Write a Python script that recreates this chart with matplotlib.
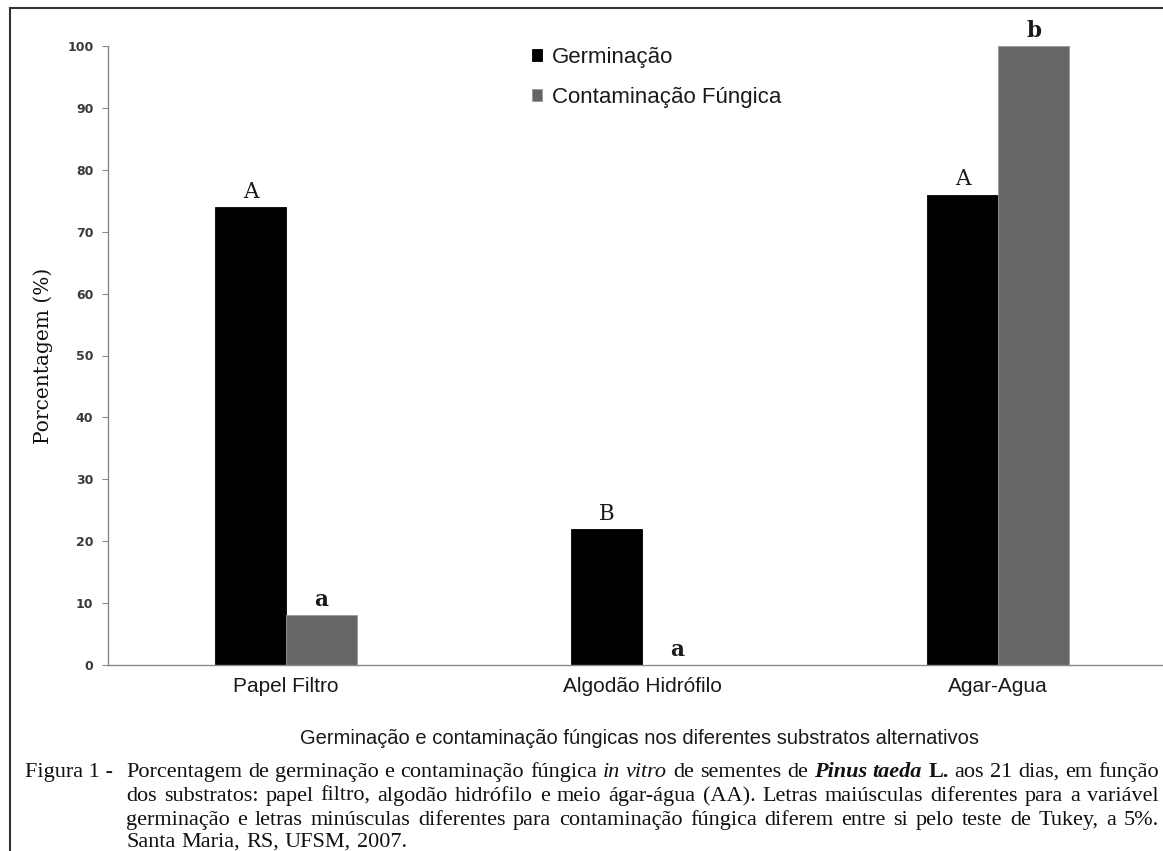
import numpy as np
import matplotlib
matplotlib.use('Agg')
from matplotlib import pyplot as plt
from matplotlib.lines import Line2D

# data
categories = ['Papel Filtro', 'Algodão Hidrófilo', 'Agar-Agua']
germinacao = [74, 22, 76]
contaminacao = [8, 0, 100]
letras_germ = ['A', 'B', 'A']
letras_cont = ['a', 'a', 'b']
series_names = ['Germinação', 'Contaminação Fúngica']
yticks = list(range(0, 101, 10))
xlabel = 'Germinação e contaminação fúngicas nos diferentes substratos alternativos'
ylabel = 'Porcentagem (%)'

W, H = 1163, 851
fig = plt.figure(figsize=(W / 100, H / 100), dpi=100, facecolor='white')

# axes placed in pixel terms (x range runs past the right edge, as in the scan)
left, right, bottom, top = 108, 1176, 665, 46
ax = fig.add_axes([left / W, 1 - bottom / H, (right - left) / W, (bottom - top) / H])
ax.set_facecolor('none')

x = np.arange(len(categories))
bw = 0.2
b1 = ax.bar(x - bw / 2, germinacao, bw, color='#000000', edgecolor='#000000', linewidth=0.6,
            label=series_names[0])
b2 = ax.bar(x + bw / 2, contaminacao, bw, color='#666666', edgecolor='#9a9a9a', linewidth=0.6,
            label=series_names[1])

ax.set_xlim(-0.5, 2.5)
ax.set_ylim(0, 100)
ax.set_yticks(yticks)
ax.set_yticklabels([str(t) for t in yticks], fontsize=9, fontweight='bold',
                   family='DejaVu Sans', color='#3a3a3a')
ax.tick_params(axis='y', direction='out', length=4.5, width=0.8, color='#888888', pad=6)
ax.set_xticks(x)
ax.set_xticklabels(categories, fontsize=15, family='Liberation Sans', color='#1a1a1a')
ax.tick_params(axis='x', length=0, pad=9)
for s in ['top', 'right']:
    ax.spines[s].set_visible(False)
ax.spines['left'].set_color('#8a8a8a')
ax.spines['bottom'].set_color('#8a8a8a')
ax.spines['left'].set_linewidth(1.0)
ax.spines['bottom'].set_linewidth(1.0)

# Tukey letters
for xi, v, t in zip(x - bw / 2, germinacao, letras_germ):
    ax.annotate(t, (xi, v), xytext=(0, 3), textcoords='offset points', ha='center',
                va='bottom', fontsize=15.5, family='DejaVu Serif', color='#1a1a1a')
for xi, v, t in zip(x + bw / 2, contaminacao, letras_cont):
    ax.annotate(t, (xi, v), xytext=(0, 3), textcoords='offset points', ha='center',
                va='bottom', fontsize=15.5, fontweight='bold', family='DejaVu Serif',
                color='#1a1a1a')

leg = ax.legend(handles=[b1, b2], loc='upper left', bbox_to_anchor=(532 / W, 1 - 47 / H),
                bbox_transform=fig.transFigure, frameon=False, borderpad=0, borderaxespad=0,
                handlelength=0.45, handleheight=0.45, handletextpad=0.45, labelspacing=0.85,
                prop={'family': 'Liberation Sans', 'size': 16})
for t in leg.get_texts():
    t.set_color('#1a1a1a')

fig.text(640 / W, 1 - 739 / H, xlabel, ha='center', va='center', fontsize=14.5,
         family='Liberation Sans', color='#1a1a1a')
fig.text(43 / W, 1 - 356 / H, ylabel, ha='center', va='center', rotation=90,
         fontsize=14.5, family='DejaVu Serif', color='#111111')

# frame of the scanned figure (left and top only are visible)
fig.add_artist(Line2D([9.5 / W, 9.5 / W], [0, 1 - 7.5 / H], transform=fig.transFigure,
                      color='#333333', lw=1.5))
fig.add_artist(Line2D([9.5 / W, 1], [1 - 7.5 / H, 1 - 7.5 / H], transform=fig.transFigure,
                      color='#333333', lw=1.5))

# caption, justified word by word
cap_font = dict(family='Liberation Serif', size=16, color='#111111')
cap_left, cap_right = 126, 1159
cap_lines = [
    [('Porcentagem', ''), ('de', ''), ('germinação', ''), ('e', ''), ('contaminação', ''),
     ('fúngica', ''), ('in', 'i'), ('vitro', 'i'), ('de', ''), ('sementes', ''), ('de', ''),
     ('Pinus', 'bi'), ('taeda', 'bi'), ('L.', 'b'), ('aos', ''), ('21', ''), ('dias,', ''),
     ('em', ''), ('função', '')],
    [(w, '') for w in 'dos substratos: papel filtro, algodão hidrófilo e meio ágar-água (AA). '
     'Letras maiúsculas diferentes para a variável'.split()],
    [(w, '') for w in 'germinação e letras minúsculas diferentes para contaminação fúngica '
     'diferem entre si pelo teste de Tukey, a 5%.'.split()],
    [(w, '') for w in 'Santa Maria, RS, UFSM, 2007.'.split()],
]
baselines = [777, 801, 825, 847]

fig.text(25 / W, 1 - baselines[0] / H, 'Figura 1 -', ha='left', va='baseline', **cap_font)

renderer = fig.canvas.get_renderer()
for li, (words, yb) in enumerate(zip(cap_lines, baselines)):
    texts = []
    for w, st in words:
        t = fig.text(0, 1 - yb / H, w, ha='left', va='baseline',
                     fontweight='bold' if 'b' in st else 'normal',
                     fontstyle='italic' if 'i' in st else 'normal', **cap_font)
        texts.append(t)
    widths = [t.get_window_extent(renderer).width for t in texts]
    if li < len(cap_lines) - 1:
        gap = (cap_right - cap_left - sum(widths)) / (len(texts) - 1)
    else:
        gap = 6
    xp = cap_left
    for t, wd in zip(texts, widths):
        t.set_x(xp / W)
        xp += wd + gap

fig.savefig('out.png', dpi=100, facecolor='white')
